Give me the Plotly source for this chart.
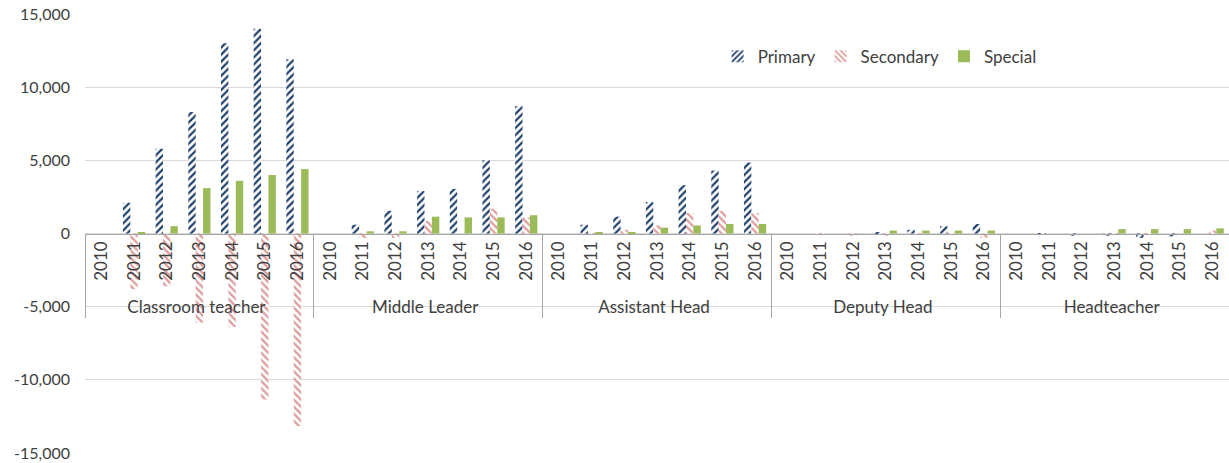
import plotly.graph_objects as go

groups = ["Classroom teacher", "Middle Leader", "Assistant Head", "Deputy Head", "Headteacher"]
years = ["2010", "2011", "2012", "2013", "2014", "2015", "2016"]

# one value per (group, year), groups in order
primary = [
    0, 2100, 5800, 8300, 13000, 14000, 11900,
    0, 600, 1550, 2900, 3050, 5000, 8700,
    0, 600, 1150, 2150, 3300, 4300, 4850,
    0, 0, 0, 50, 250, 500, 650,
    0, -50, -150, -150, -300, -200, 0,
]
secondary = [
    0, -3800, -3600, -6100, -6400, -11350, -13150,
    0, -300, -300, 850, 0, 1700, 1100,
    0, -100, 250, 550, 1400, 1550, 1400,
    0, -100, -150, -150, -100, -100, -300,
    0, 0, 0, -50, -50, 0, 200,
]
special = [
    0, 100, 500, 3100, 3600, 4000, 4400,
    0, 150, 150, 1150, 1100, 1100, 1250,
    0, 50, 50, 400, 550, 650, 650,
    0, 0, 0, 200, 200, 200, 200,
    0, 0, 0, 300, 300, 300, 350,
]
y_ticks = [-15000, -10000, -5000, 0, 5000, 10000, 15000]
y_labels = ["-15,000", "-10,000", "-5,000", "0", "5,000", "10,000", "15,000"]

x = [[g for g in groups for _ in years], [y for _ in groups for y in years]]

fig = go.Figure()
fig.add_trace(go.Bar(
    x=x, y=primary, name="Primary",
    marker=dict(color="#1F3F6E", line=dict(width=0),
                pattern=dict(shape="/", fillmode="replace", bgcolor="white", size=5, solidity=0.45)),
))
fig.add_trace(go.Bar(
    x=x, y=secondary, name="Secondary",
    marker=dict(color="#E09A9A", line=dict(width=0),
                pattern=dict(shape="\\", fillmode="replace", bgcolor="white", size=5, solidity=0.45)),
))
fig.add_trace(go.Bar(
    x=x, y=special, name="Special",
    marker=dict(color="#9BBB59", line=dict(width=0)),
))

fig.update_layout(
    width=1229, height=463,
    margin=dict(l=85, r=0, t=14, b=10),
    paper_bgcolor="white", plot_bgcolor="white",
    font=dict(family="Lato, Open Sans, sans-serif", size=16, color="#404040"),
    barmode="group", bargap=0.32, bargroupgap=0,
    legend=dict(orientation="h", x=0.553, y=0.903, xanchor="left", yanchor="middle",
                font=dict(size=17, color="#404040"), itemwidth=30, tracegroupgap=0),
    xaxis=dict(
        type="multicategory", anchor="free", position=0.5, automargin=False,
        showline=True, linecolor="#A6A6A6", linewidth=1,
        tickangle=-90, ticks="", showgrid=False,
        showdividers=True, dividercolor="#A6A6A6", dividerwidth=1,
        tickfont=dict(size=17, color="#404040"),
    ),
    yaxis=dict(
        range=[-15000, 15000], tickvals=y_ticks, ticktext=y_labels, automargin=False,
        showgrid=True, gridcolor="#D9D9D9", gridwidth=1,
        zeroline=False, showline=False, ticks="",
        ticklabelstandoff=14,
        tickfont=dict(size=16, color="#404040"),
    ),
)

# drop the page's default body margin so the figure sits at the window's corner
fig.write_html("out.html", config={"displayModeBar": False},
               post_script="document.body.style.margin = '0';")
